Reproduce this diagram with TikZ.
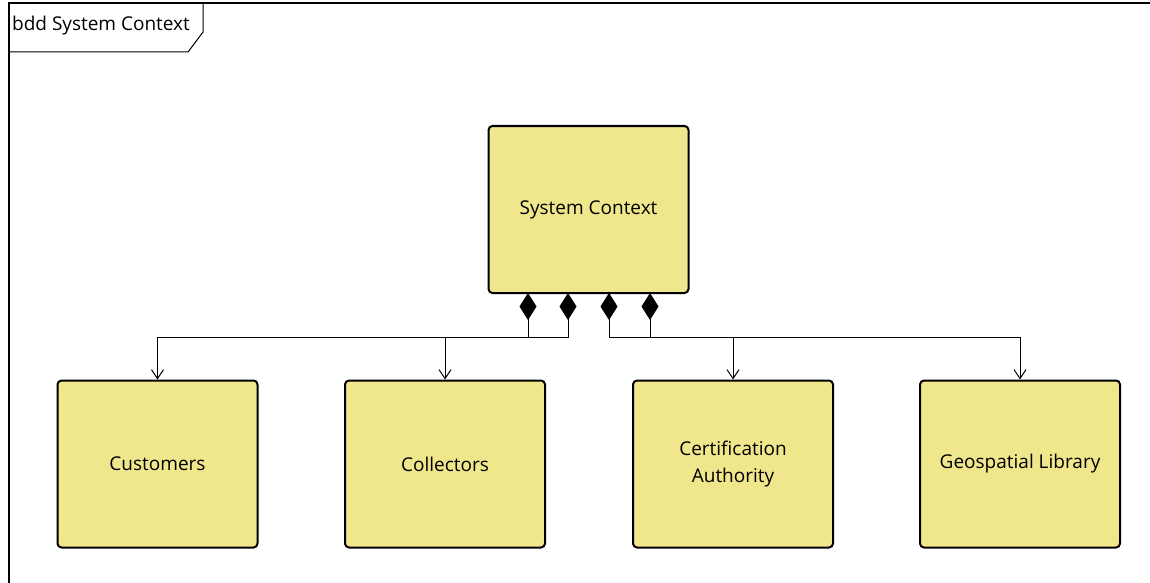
\documentclass[tikz,border=0pt]{standalone}
\usepackage{fontspec}
\setmainfont{Open Sans}
\usetikzlibrary{arrows.meta,calc}
\definecolor{khaki}{HTML}{F0E68C}
\tikzset{
  block/.style={draw=black, line width=2pt, fill=khaki, rounded corners=4pt,
    minimum width=200pt, minimum height=167pt, align=center, font=\fontsize{19}{27}\selectfont, inner sep=0pt},
  conn/.style={draw=black, line width=1pt, -{Straight Barb[length=9pt,width=12pt,line width=1pt]}},
  comp/.style={draw=black, line width=1pt, {Diamond[length=27pt,width=17pt,fill=black]}-},
}
\begin{document}
\begin{tikzpicture}[x=1pt,y=-1pt]
\useasboundingbox (0,0) rectangle (1150,583);
\fill[white] (0,0) rectangle (1150,583);
% frame
\draw[line width=2pt] (9,583) -- (9,3) -- (1150,3);
\draw[line width=1pt] (9,52) -- (188,52) -- (203,32) -- (203,3);
\node[anchor=west, font=\fontsize{19}{22}\selectfont, inner sep=0pt] (title) at (12,26) {bdd System Context};
% blocks
\node[block] (sys) at (588.5,209.5) {System Context};
\node[block] (cus) at (157.5,464) {Customers};
\node[block] (col) at (445,464) {Collectors};
\node[block] (cer) at (733,464) {Certification\\Authority};
\node[block] (geo) at (1020,464) {Geospatial Library};
% bend points
\coordinate (h1) at (cus.north |- 0,337);
\coordinate (h2) at (col.north |- 0,337);
\coordinate (h3) at (cer.north |- 0,337);
\coordinate (h4) at (geo.north |- 0,337);
% source points
\coordinate (s1) at (528,293);
\coordinate (s2) at (568,293);
\coordinate (s3) at (609,293);
\coordinate (s4) at (650,293);
\draw[comp] (s1) -- (528,337) -- (h1);
\draw[comp] (s2) -- (568,337) -- (h2);
\draw[comp] (s3) -- (609,337) -- (h3);
\draw[comp] (s4) -- (650,337) -- (h4);
\draw[conn] (h1) -- (cus.north);
\draw[conn] (h2) -- (col.north);
\draw[conn] (h3) -- (cer.north);
\draw[conn] (h4) -- (geo.north);
\end{tikzpicture}
\end{document}
